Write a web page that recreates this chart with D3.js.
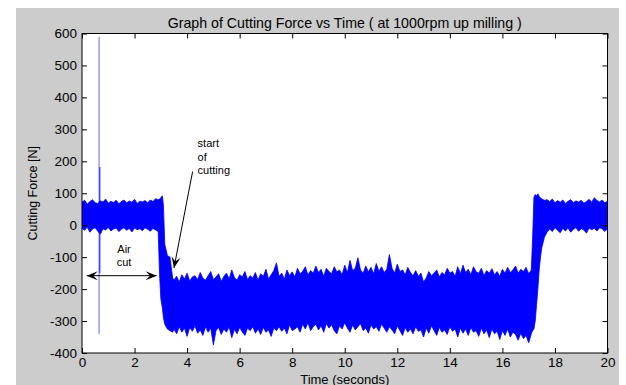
<!DOCTYPE html>
<html><head><meta charset="utf-8">
<script src="https://cdn.jsdelivr.net/npm/d3@7"></script>
<style>html,body{margin:0;padding:0;background:#fff}svg{display:block}text{font-family:"Liberation Sans",Arial,sans-serif}</style>
</head><body><svg id="c" width="626" height="385"></svg>
<script>
// ---- data (envelope of the noisy force signal) ----
const times = [
0,0.1,0.2,0.3,0.4,0.5,0.6,0.7,0.8,0.9,1.0,1.1,1.2,1.3,1.4,1.5,1.6,1.7,1.8,1.9,2.0,2.1,2.2,2.3,2.4,2.5,2.6,2.7,2.8,2.9,
2.95,3.0,3.06,3.1,3.15,3.25,3.35,3.45,
3.5,3.6,3.7,3.8,3.9,4.0,4.1,4.2,4.3,4.4,
4.5,4.6,4.7,4.8,4.9,5.0,5.1,5.2,5.3,5.4,
5.5,5.6,5.7,5.8,5.9,6.0,6.1,6.2,6.3,6.4,
6.5,6.6,6.7,6.8,6.9,7.0,7.1,7.2,7.3,7.4,
7.5,7.6,7.7,7.8,7.9,8.0,8.1,8.2,8.3,8.4,
8.5,8.6,8.7,8.8,8.9,9.0,9.1,9.2,9.3,9.4,
9.5,9.6,9.7,9.8,9.9,10.0,10.1,10.2,10.3,10.4,
10.5,10.6,10.7,10.8,10.9,11.0,11.1,11.2,11.3,11.4,
11.5,11.6,11.7,11.8,11.9,12.0,12.1,12.2,12.3,12.4,
12.5,12.6,12.7,12.8,12.9,13.0,13.1,13.2,13.3,13.4,
13.5,13.6,13.7,13.8,13.9,14.0,14.1,14.2,14.3,14.4,
14.5,14.6,14.7,14.8,14.9,15.0,15.1,15.2,15.3,15.4,
15.5,15.6,15.7,15.8,15.9,16.0,16.1,16.2,16.3,16.4,
16.5,16.6,16.7,16.8,16.9,17.0,17.1,
17.15,17.2,17.25,17.3,17.35,17.4,17.45,17.5,17.6,17.7,
17.8,17.9,18.0,18.1,18.2,18.3,18.4,18.5,18.6,18.7,18.8,18.9,19.0,19.1,19.2,19.3,19.4,19.5,19.6,19.7,19.8,19.9,20.0];
const upperForce = [
72,78,66,74,80,70,68,76,73,82,69,75,71,78,67,74,79,70,76,72,81,68,75,73,77,70,79,74,83,80,
82,86,92,60,-60,-95,-100,-165,
-172,-160,-178,-155,-168,-150,-175,-162,-158,-170,
-148,-166,-172,-158,-145,-170,-162,-152,-176,-160,
-150,-168,-140,-164,-172,-155,-162,-145,-170,-158,
-165,-148,-172,-152,-160,-138,-168,-155,-142,-118,
-160,-150,-168,-140,-158,-146,-162,-135,-152,-144,
-130,-156,-142,-150,-128,-148,-138,-160,-135,-145,
-152,-130,-146,-140,-155,-125,-148,-110,-142,-135,
-102,-140,-150,-128,-146,-132,-152,-120,-144,-130,
-148,-138,-92,-135,-150,-122,-145,-140,-155,-132,
-148,-158,-142,-160,-150,-178,-165,-145,-158,-150,
-140,-162,-148,-155,-135,-150,-145,-160,-130,-152,
-125,-148,-138,-155,-130,-146,-150,-135,-158,-142,
-150,-136,-155,-145,-160,-138,-150,-132,-148,-140,
-128,-150,-138,-145,-132,-152,-140,
-40,88,96,92,98,90,85,82,78,80,
74,82,70,77,72,79,68,75,80,71,76,73,78,69,74,81,72,86,77,73,79,70,75];
const lowerForce = [
-10,-16,-6,-22,-12,-8,-19,-28,-11,-15,-7,-18,-12,-9,-20,-13,-8,-16,-10,-21,-9,-14,-11,-17,-8,-13,-19,-10,-15,-20,
-150,-230,-260,-290,-310,-325,-330,-335,
-325,-340,-318,-335,-322,-348,-320,-332,-315,-338,
-328,-345,-318,-335,-322,-375,-330,-320,-342,-325,
-335,-318,-352,-326,-340,-320,-334,-345,-322,-330,
-318,-338,-325,-342,-320,-335,-328,-348,-322,-330,
-318,-332,-322,-340,-312,-330,-325,-318,-335,-310,
-325,-305,-330,-318,-310,-328,-315,-335,-308,-322,
-312,-330,-340,-315,-325,-305,-322,-335,-312,-328,
-318,-308,-330,-322,-338,-312,-325,-318,-332,-310,
-322,-335,-318,-328,-340,-315,-330,-345,-320,-335,
-325,-340,-318,-332,-328,-350,-322,-338,-315,-330,
-345,-320,-335,-328,-342,-318,-332,-325,-350,-322,
-338,-325,-345,-320,-335,-330,-348,-322,-340,-328,
-352,-325,-340,-332,-358,-330,-345,-325,-350,-335,
-342,-360,-338,-355,-345,-368,-340,
-330,-325,-300,-250,-200,-140,-100,-70,-38,-22,
-12,-20,-8,-16,-24,-10,-18,-9,-22,-13,-8,-19,-11,-15,-25,-9,-14,-10,-18,-8,-12,-20,-10];
const spikeTimes = [0.65, 0.68];
const spikeHigh = [590, 182];
const spikeLow = [-340, -150];
const xTicks = [0,2,4,6,8,10,12,14,16,18,20];
const yTicks = [-400,-300,-200,-100,0,100,200,300,400,500,600];
const titleText = "Graph of Cutting Force vs Time ( at 1000rpm up milling )";
const xLabel = "Time (seconds)";
const yLabel = "Cutting Force [N]";

const svg = d3.select("#c");
svg.append("rect").attr("x",16).attr("y",8).attr("width",603).attr("height",377).attr("fill","#cccccc");

const L=82, R=607.5, T=33.5, B=353;
const x = d3.scaleLinear().domain([0,20]).range([L,R]);
const y = d3.scaleLinear().domain([-400,600]).range([B,T]);

svg.append("rect").attr("x",L).attr("y",T).attr("width",R-L).attr("height",B-T).attr("fill","#fff");
svg.append("clipPath").attr("id","clip").append("rect").attr("x",L).attr("y",T).attr("width",R-L).attr("height",B-T);

const data = times.map((t,i)=>({t, u:upperForce[i], l:lowerForce[i]}));
const g = svg.append("g").attr("clip-path","url(#clip)");
g.append("path").datum(data)
  .attr("d", d3.area().x(d=>x(d.t)).y0(d=>y(d.l)).y1(d=>y(d.u)))
  .attr("fill","#0000ff").attr("stroke","#0000ff").attr("stroke-width",0.8);
g.selectAll("line.spike").data(spikeTimes.map((t,i)=>({t,h:spikeHigh[i],l:spikeLow[i]}))).join("line")
  .attr("class","spike")
  .attr("x1",d=>x(d.t)).attr("x2",d=>x(d.t)).attr("y1",d=>y(d.h)).attr("y2",d=>y(d.l))
  .attr("stroke","#0000ff").attr("stroke-width",1).attr("stroke-opacity",(d,i)=>i==0?0.6:0.9);

// axes
const fs = 13.5;
const fmt = d=>String(d);
const ax = (a)=>a.tickSizeInner(-5).tickSizeOuter(0);
const gx = svg.append("g").attr("transform",`translate(0,${B})`).call(ax(d3.axisBottom(x).tickValues(xTicks)).tickPadding(4).tickFormat(fmt));
const gxt = svg.append("g").attr("transform",`translate(0,${T})`).call(ax(d3.axisTop(x).tickValues(xTicks)).tickFormat(""));
const gy = svg.append("g").attr("transform",`translate(${L},0)`).call(ax(d3.axisLeft(y).tickValues(yTicks)).tickPadding(5).tickFormat(fmt));
const gyr = svg.append("g").attr("transform",`translate(${R},0)`).call(ax(d3.axisRight(y).tickValues(yTicks)).tickFormat(""));
[gx,gxt,gy,gyr].forEach(a=>{a.select(".domain").remove(); a.selectAll("line").attr("stroke","#000");
  a.selectAll("text").attr("font-size",fs).attr("font-family","Liberation Sans, Arial, sans-serif").attr("fill","#000");});
svg.append("rect").attr("x",L).attr("y",T).attr("width",R-L).attr("height",B-T).attr("fill","none").attr("stroke","#000").attr("stroke-width",1);

// labels
svg.append("text").attr("x",(L+R)/2).attr("y",27.5).attr("text-anchor","middle").attr("font-size",14.2).text(titleText);
svg.append("text").attr("x",(L+R)/2).attr("y",383.5).attr("text-anchor","middle").attr("font-size",13).text(xLabel);
svg.append("text").attr("transform",`translate(37,${(T+B)/2}) rotate(-90)`).attr("text-anchor","middle").attr("font-size",12.5).text(yLabel);

// annotations
function arrowHead(x1,y1,x2,y2,len,w){
  const a=Math.atan2(y2-y1,x2-x1), c=Math.cos(a), s=Math.sin(a);
  const bx=x2-len*c, by=y2-len*s, mx=x2-len*0.6*c, my=y2-len*0.6*s;
  return `M${x2},${y2}L${bx-w*s},${by+w*c}L${mx},${my}L${bx+w*s},${by-w*c}Z`;
}
const ann = svg.append("g");
const ay = y(-158), ax1 = x(0.18), ax2 = x(2.84);
ann.append("line").attr("x1",ax1).attr("x2",ax2).attr("y1",ay).attr("y2",ay).attr("stroke","#000");
ann.append("path").attr("d",arrowHead(ax2,ay,ax1,ay,11,4.5)).attr("fill","#000");
ann.append("path").attr("d",arrowHead(ax1,ay,ax2,ay,11,4.5)).attr("fill","#000");
ann.append("text").attr("x",x(1.6)).attr("y",y(-76)+4).attr("text-anchor","middle").attr("font-size",11).text("Air");
ann.append("text").attr("x",x(1.6)).attr("y",y(-114)+4).attr("text-anchor","middle").attr("font-size",11).text("cut");
const sx1=x(4.21), sy1=y(168), sx2=x(3.50), sy2=y(-134);
ann.append("line").attr("x1",sx1).attr("y1",sy1).attr("x2",sx2).attr("y2",sy2).attr("stroke","#000");
ann.append("path").attr("d",arrowHead(sx1,sy1,sx2,sy2,11,4.5)).attr("fill","#000");
["start","of","cutting"].forEach((s,i)=>ann.append("text").attr("x",x(4.40)).attr("y",147+i*13.7).attr("font-size",11).text(s));
</script></body></html>
